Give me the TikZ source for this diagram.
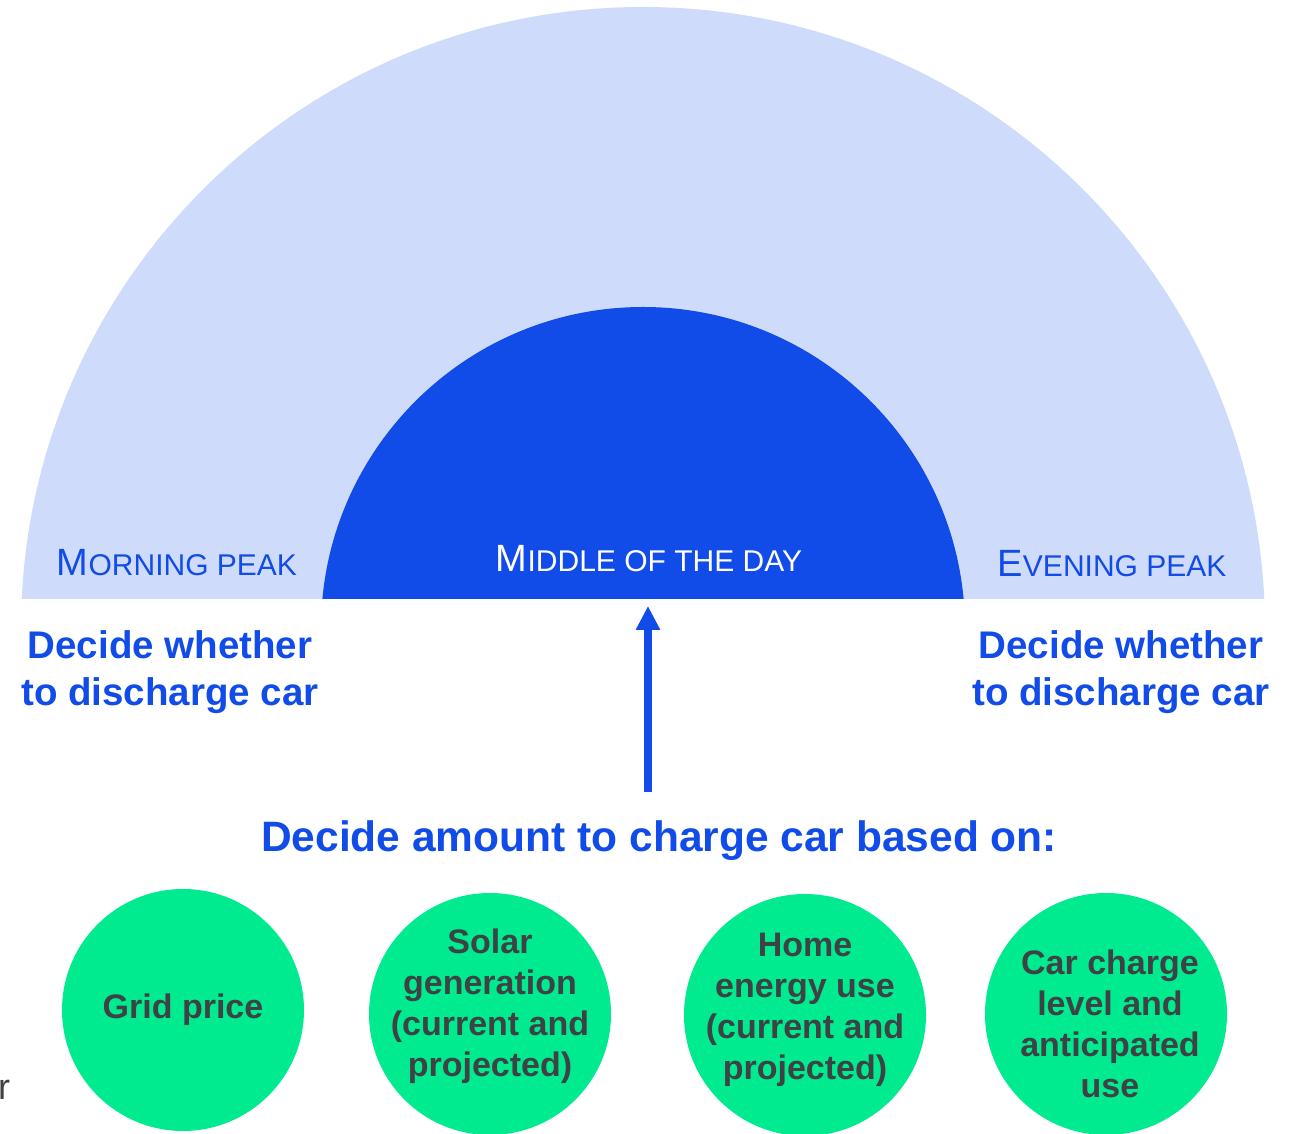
\documentclass[tikz,border=0pt]{standalone}
\usepackage{fontspec}
\setmainfont{Liberation Sans}
\usetikzlibrary{positioning,arrows.meta}
\definecolor{daysky}{RGB}{207,219,250}
\definecolor{noonblue}{RGB}{17,75,232}
\definecolor{factorgreen}{RGB}{0,235,143}
\definecolor{factorink}{RGB}{62,66,69}
\tikzset{every picture/.style={>={Triangle[width=23pt,length=24pt]}}}
\tikzset{period/.style={anchor=base,font=\fontsize{30}{36}\selectfont}}
\tikzset{decision/.style={text=noonblue,align=center,font=\bfseries\fontsize{38.5}{47}\selectfont}}
\tikzset{factor/.style={circle,fill=factorgreen,minimum size=242pt,inner sep=0pt}}
\tikzset{factor text/.style={text=factorink,align=center,font=\bfseries\fontsize{34}{41}\selectfont}}
\newcommand{\capsword}[2]{{\fontsize{38}{38}\selectfont #1}#2}

\begin{document}
\begin{tikzpicture}[x=1pt,y=1pt]
  \useasboundingbox (0,0) rectangle (1296,1133);
  % the day as two bands, cut off at the horizon
  \begin{scope}
    \clip (0,534) rectangle (1296,1133);
    \fill[daysky] (643,504) circle (622);
    \fill[noonblue] (643,504) circle (322);
  \end{scope}
  \coordinate (noon) at (648,534);
  \coordinate (foot) at (648,341);

  \node[period,text=noonblue] (morning) at (177,557) {\capsword{M}{ORNING PEAK}};
  \node[period,text=white] (midday) at (649,561) {\capsword{M}{IDDLE OF THE DAY}};
  \node[period,text=noonblue] (evening) at (1112,556) {\capsword{E}{VENING PEAK}};

  \node[decision] (discharge am) at (170,461) {Decide whether\\to discharge car};
  \node[decision] (discharge pm) at (1121,461) {Decide whether\\to discharge car};

  \node[decision,anchor=base,font=\bfseries\fontsize{42.5}{48}\selectfont] (amount) at (659,281)
    {Decide amount to charge car based on:};
  \draw[->,noonblue,line width=8pt,shorten >=7pt] (foot) -- (noon);

  % the four inputs
  \node[factor] (grid) at (183,123) {};
  \node[factor] (solar) at (490,119) {};
  \node[factor] (home) at (805,118) {};
  \node[factor] (charge) at (1106,119) {};
  \node[factor text] (grid text) at (grid) {Grid price};
  \node[factor text] (solar text) at ([yshift=8pt]solar) {Solar\\generation\\(current and\\projected)};
  \node[factor text] (home text) at ([yshift=5pt]home) {Home\\energy use\\(current and\\projected)};
  \node[factor text] (charge text) at ([xshift=4pt,yshift=-10pt]charge) {Car charge\\level and\\anticipated\\use};

  \node[anchor=base west,text=factorink,font=\fontsize{36}{36}\selectfont,inner sep=0pt] (stray) at (-2,34) {r};
\end{tikzpicture}
\end{document}
